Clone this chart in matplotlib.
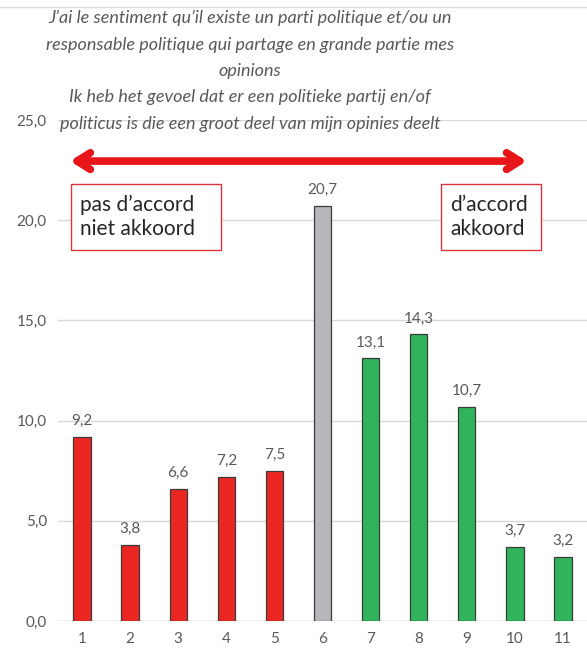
import matplotlib
matplotlib.use('agg')
from matplotlib import pyplot as plt
from matplotlib.patches import Rectangle
from matplotlib.lines import Line2D

# answer scale and share of respondents (%)
SCALE = [str(i) for i in range(1, 12)]
SHARES = [9.2, 3.8, 6.6, 7.2, 7.5, 20.7, 13.1, 14.3, 10.7, 3.7, 3.2]
BAR_COLORS = ['#ec2723'] * 5 + ['#b7b7bb'] + ['#2fb45c'] * 5
Y_TICKS = [0, 5, 10, 15, 20, 25]

TITLE = ("J\u2019ai le sentiment qu\u2019il existe un parti politique et/ou un\n"
         "responsable politique qui partage en grande partie mes\n"
         "opinions\n"
         "Ik heb het gevoel dat er een politieke partij en/of\n"
         "politicus is die een groot deel van mijn opinies deelt")
LEFT_LABEL = "pas d\u2019accord\nniet akkoord"
RIGHT_LABEL = "d\u2019accord\nakkoord"

GREY_TEXT = '#595959'
FONT = ['Lato', 'DejaVu Sans']

plt.rcParams['font.family'] = FONT

fig = plt.figure(figsize=(5.87, 6.55), dpi=100)
ax = fig.add_axes([58 / 587, 34 / 655, 529 / 587, 501 / 655])

# thin frame line at the top of the picture
fig.add_artist(Line2D([0, 1], [1 - 7 / 655, 1 - 7 / 655], color='#dcdcdc',
                      linewidth=1, transform=fig.transFigure))

x = list(range(1, 12))
ax.bar(x, SHARES, width=0.36, color=BAR_COLORS, edgecolor='#3a3a3a',
       linewidth=0.9, zorder=3)
for xi, v in zip(x, SHARES):
    ax.text(xi, v + 0.45, f"{v:.1f}".replace('.', ','), ha='center', va='bottom',
            fontsize=11, color=GREY_TEXT)

ax.set_xlim(0.5, 11.5)
ax.set_ylim(0, 25)
ax.set_xticks(x)
ax.set_xticklabels(SCALE)
ax.set_yticks(Y_TICKS)
ax.set_yticklabels([f"{t:.1f}".replace('.', ',') for t in Y_TICKS])
ax.tick_params(length=0, labelsize=11, labelcolor=GREY_TEXT, pad=8)
ax.grid(axis='y', color='#d9d9d9', linewidth=1, zorder=0)
for s in ax.spines.values():
    s.set_visible(False)
ax.axhline(0, color='#d0d0d0', linewidth=1, zorder=1)

# title
fig.text(250 / 587, 1 - 10 / 655, TITLE, ha='center', va='top',
         fontsize=13, style='italic', color=GREY_TEXT, linespacing=1.8)

# double arrow
ax.annotate('', xy=(0.75, 22.95), xytext=(10.25, 22.95),
            arrowprops=dict(arrowstyle='<->,head_length=0.95,head_width=0.6',
                            color='#e8161b', lw=5.5, shrinkA=0, shrinkB=0,
                            capstyle='round', joinstyle='round'),
            zorder=5)

# boxes with labels
ax.add_patch(Rectangle((0.77, 18.5), 3.12, 3.3, facecolor='white',
                       edgecolor='#d9363b', linewidth=1, zorder=4))
ax.text(0.95, 20.15, LEFT_LABEL, ha='left', va='center', fontsize=15,
        color='#262626', linespacing=1.25, zorder=5)
ax.add_patch(Rectangle((8.46, 18.5), 2.08, 3.3, facecolor='white',
                       edgecolor='#d9363b', linewidth=1, zorder=4))
ax.text(8.65, 20.15, RIGHT_LABEL, ha='left', va='center', fontsize=15,
        color='#262626', linespacing=1.25, zorder=5)

fig.savefig('out.png', dpi=100)
